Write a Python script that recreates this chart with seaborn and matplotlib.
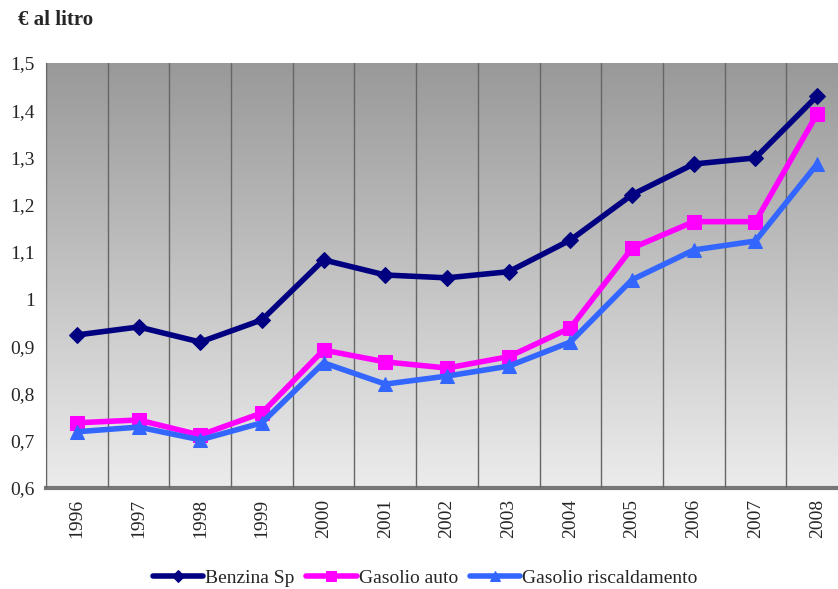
import numpy as np
import pandas as pd
import matplotlib
matplotlib.use("Agg")
import matplotlib.pyplot as plt
import seaborn as sns

anni = ["1996", "1997", "1998", "1999", "2000", "2001", "2002",
        "2003", "2004", "2005", "2006", "2007", "2008"]
benzina = [0.924, 0.941, 0.909, 0.956, 1.083, 1.051, 1.045,
           1.058, 1.125, 1.221, 1.286, 1.299, 1.430]
gasolio_auto = [0.738, 0.744, 0.712, 0.759, 0.892, 0.867, 0.854,
                0.878, 0.939, 1.108, 1.164, 1.164, 1.392]
gasolio_risc = [0.719, 0.729, 0.702, 0.738, 0.865, 0.820, 0.837,
                0.858, 0.909, 1.041, 1.104, 1.123, 1.286]
serie = ["Benzina Sp", "Gasolio auto", "Gasolio riscaldamento"]

df = pd.DataFrame({
    "anno": anni * 3,
    "pos": list(range(len(anni))) * 3,
    "prezzo": benzina + gasolio_auto + gasolio_risc,
    "serie": [s for s in serie for _ in anni],
})

sns.set_style("white")
plt.rcParams["font.family"] = ["Liberation Serif", "DejaVu Serif"]

fig = plt.figure(figsize=(8.38, 5.89), dpi=100)
ax = fig.add_axes([0.0549, 0.1715, 0.957, 0.7216])

# sfondo sfumato
grad = np.linspace(0, 1, 256).reshape(-1, 1)
cmap = matplotlib.colors.LinearSegmentedColormap.from_list("g", ["#ececec", "#999999"])
ax.imshow(grad, cmap=cmap, aspect="auto", extent=[-0.5, 12.5, 0.6, 1.5],
          origin="lower", zorder=0)

palette = {"Benzina Sp": "#000080", "Gasolio auto": "#FF00FF",
           "Gasolio riscaldamento": "#3366FF"}
markers = {"Benzina Sp": "D", "Gasolio auto": "s", "Gasolio riscaldamento": "^"}
sizes_m = {"Benzina Sp": 8, "Gasolio auto": 10, "Gasolio riscaldamento": 10}

for s in serie:
    sub = df[df["serie"] == s]
    sns.lineplot(data=sub, x="pos", y="prezzo", color=palette[s], marker=markers[s],
                 markersize=sizes_m[s], markeredgecolor=palette[s], linewidth=4,
                 label=s, ax=ax, zorder=3)

ax.set_xlim(-0.5, 12.5)
ax.set_ylim(0.6, 1.5)
ax.set_xticks(np.arange(-0.5, 13, 1))
ax.set_xticklabels([])
ax.set_xticks(range(len(anni)), minor=True)
ax.set_xticklabels(anni, minor=True, rotation=90, fontsize=14)
ax.tick_params(axis="x", which="minor", length=0, pad=8)
ax.tick_params(axis="x", which="major", length=6, color="#666666", direction="out")
ax.xaxis.grid(True, which="major", color="#666666", linewidth=1)
ax.set_axisbelow(False)
for l in ax.get_xgridlines():
    l.set_zorder(1)

yt = np.round(np.arange(0.6, 1.51, 0.1), 1)
ax.set_yticks(yt)
ax.set_yticklabels([("%g" % v).replace(".", ",") for v in yt], fontsize=14)
ax.tick_params(axis="y", length=5, color="#666666", direction="out", pad=3)

for sp in ["top", "right"]:
    ax.spines[sp].set_visible(False)
ax.spines["left"].set_color("#666666")
ax.spines["bottom"].set_color("#777777")
ax.spines["bottom"].set_linewidth(3)
ax.set_xlabel("")
ax.set_ylabel("")

handles, labels = ax.get_legend_handles_labels()
ax.get_legend().remove()
fig.legend(handles, labels, loc="center", bbox_to_anchor=(425 / 838, 1 - 578 / 589),
           ncol=3, frameon=False, fontsize=14, handlelength=2.6, handletextpad=0.1,
           columnspacing=0.6, borderaxespad=0, borderpad=0, markerscale=0.75)

fig.text(18 / 838, 1 - 20 / 589, "€ al litro", fontsize=15, fontweight="bold",
         va="center", ha="left")

fig.savefig("out.png", dpi=100)
